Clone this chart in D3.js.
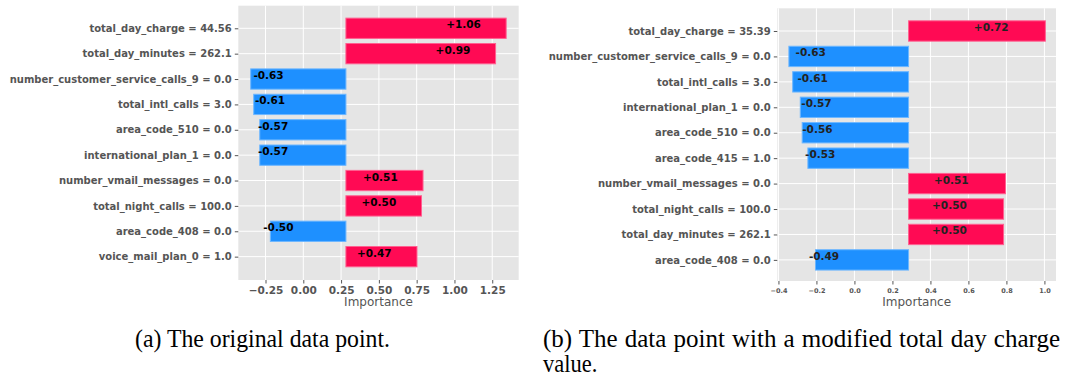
<!DOCTYPE html>
<html>
<head>
<meta charset="utf-8">
<script src="https://cdn.jsdelivr.net/npm/d3@7"></script>
<style>
  html, body { margin: 0; padding: 0; background: #fff; }
  svg { display: block; }
</style>
</head>
<body>
<svg id="chart" width="1065" height="376"></svg>
<script>
// Local explanation weights for one prediction (panel a) and the same
// prediction after changing total_day_charge (panel b).
const featuresA = [
  "total_day_charge = 44.56",
  "total_day_minutes = 262.1",
  "number_customer_service_calls_9 = 0.0",
  "total_intl_calls = 3.0",
  "area_code_510 = 0.0",
  "international_plan_1 = 0.0",
  "number_vmail_messages = 0.0",
  "total_night_calls = 100.0",
  "area_code_408 = 0.0",
  "voice_mail_plan_0 = 1.0"
];
const valuesA = [1.06, 0.99, -0.63, -0.61, -0.57, -0.57, 0.51, 0.50, -0.50, 0.47];

const featuresB = [
  "total_day_charge = 35.39",
  "number_customer_service_calls_9 = 0.0",
  "total_intl_calls = 3.0",
  "international_plan_1 = 0.0",
  "area_code_510 = 0.0",
  "area_code_415 = 1.0",
  "number_vmail_messages = 0.0",
  "total_night_calls = 100.0",
  "total_day_minutes = 262.1",
  "area_code_408 = 0.0"
];
const valuesB = [0.72, -0.63, -0.61, -0.57, -0.56, -0.53, 0.51, 0.50, 0.50, -0.49];

// Bars start from the model intercept rather than zero.
const interceptA = 0.282;
const interceptB = 0.285;

const ticksA = [-0.25, 0.00, 0.25, 0.50, 0.75, 1.00, 1.25];
const ticksB = [-0.4, -0.2, 0.0, 0.2, 0.4, 0.6, 0.8, 1.0];

const captionA = "(a) The original data point.";
const captionB1 = "(b) The data point with a modified total day charge";
const captionB2 = "value.";

const POS = "#ff0a54";
const NEG = "#1e90ff";

const svg = d3.select("#chart");

function drawPanel(cfg) {
  const g = svg.append("g");
  const x = d3.scaleLinear().domain(cfg.xDomain).range([cfg.left, cfg.right]);
  const y = d3.scaleLinear().domain(cfg.yDomain).range([cfg.top, cfg.bottom]);
  const rows = cfg.features.map((f, i) => ({ f, v: cfg.values[i], i }));

  // plot background
  g.append("rect")
    .attr("x", cfg.left).attr("y", cfg.top)
    .attr("width", cfg.right - cfg.left).attr("height", cfg.bottom - cfg.top)
    .attr("fill", "#e5e5e5");

  // grid
  g.selectAll(".vgrid").data(cfg.ticks).join("line")
    .attr("x1", d => x(d)).attr("x2", d => x(d))
    .attr("y1", cfg.top).attr("y2", cfg.bottom)
    .attr("stroke", "#fff").attr("stroke-width", 1);
  g.selectAll(".hgrid").data(rows).join("line")
    .attr("x1", cfg.left).attr("x2", cfg.right)
    .attr("y1", d => y(d.i)).attr("y2", d => y(d.i))
    .attr("stroke", "#fff").attr("stroke-width", 1);

  // bars
  const half = 0.4;
  g.selectAll(".bar").data(rows).join("rect")
    .attr("x", d => x(Math.min(cfg.base, cfg.base + d.v)))
    .attr("width", d => Math.abs(x(cfg.base + d.v) - x(cfg.base)))
    .attr("y", d => y(d.i - half))
    .attr("height", d => y(d.i + half) - y(d.i - half))
    .attr("fill", d => d.v >= 0 ? POS : NEG)
    .attr("stroke", d => d3.interpolateRgb(d.v >= 0 ? POS : NEG, "#fff")(0.35))
    .attr("stroke-width", 1);

  // value labels
  const fmt = v => (v >= 0 ? "+" : "") + v.toFixed(2);
  g.selectAll(".val").data(rows).join("text")
    .attr("x", d => d.v >= 0 ? x(d.v) : x(d.v / 2 + 0.085))
    .attr("y", d => y(d.i))
    .attr("text-anchor", "middle")
    .attr("font-family", "DejaVu Sans")
    .attr("font-weight", "bold")
    .attr("font-size", 10.5)
    .attr("fill", cfg.valueColor)
    .text(d => fmt(d.v));

  // y axis (feature names)
  const yAxis = d3.axisLeft(y).tickValues(rows.map(d => d.i))
    .tickFormat(i => cfg.features[i]).tickSize(3.5).tickPadding(3);
  const ya = g.append("g").attr("transform", `translate(${cfg.left},0)`).call(yAxis);
  ya.select(".domain").remove();
  ya.selectAll(".tick line").attr("stroke", "#555");
  ya.selectAll("text")
    .attr("font-family", "DejaVu Sans").attr("font-weight", "bold")
    .attr("font-size", 10).attr("fill", "#555");

  // x axis
  const xAxis = d3.axisBottom(x).tickValues(cfg.ticks)
    .tickFormat(cfg.tickFormat).tickSize(3.5).tickPadding(cfg.tickPad);
  const xa = g.append("g").attr("transform", `translate(0,${cfg.bottom})`).call(xAxis);
  xa.select(".domain").remove();
  xa.selectAll(".tick line").attr("stroke", "#555");
  xa.selectAll("text")
    .attr("font-family", "DejaVu Sans").attr("font-weight", "bold")
    .attr("font-size", cfg.tickFont).attr("fill", "#555");

  g.append("text")
    .attr("x", (cfg.left + cfg.right) / 2 + cfg.titleShift)
    .attr("y", 306)
    .attr("text-anchor", "middle")
    .attr("font-family", "DejaVu Sans")
    .attr("font-size", 12)
    .attr("fill", "#555")
    .text("Importance");
}

drawPanel({
  features: featuresA, values: valuesA, base: interceptA, ticks: ticksA,
  left: 238.3, right: 518.7, top: 5.7, bottom: 280,
  xDomain: [-0.43, 1.425], yDomain: [-0.89, 9.92],
  tickFormat: d3.format(".2f"), tickFont: 10.5, tickPad: 3,
  valueColor: "#000", titleShift: 0
});

drawPanel({
  features: featuresB, values: valuesB, base: interceptB, ticks: ticksB,
  left: 777.3, right: 1056, top: 8.3, bottom: 281,
  xDomain: [-0.406, 1.061], yDomain: [-0.892, 9.83],
  tickFormat: d3.format(".1f"), tickFont: 6.5, tickPad: 4,
  valueColor: "#222", titleShift: 0
});

// captions: condensed Times-like serif
const cap = { family: "'Liberation Serif', 'Times New Roman', serif", size: 25, color: "#000" };

// set a caption line into an exact width: widen word gaps when short,
// condense glyphs when long
function fitLine(sel, width) {
  const natural = sel.node().getComputedTextLength();
  const gaps = sel.text().split(" ").length - 1;
  if (natural < width && gaps > 0) {
    sel.attr("word-spacing", (width - natural) / gaps);
  } else {
    sel.attr("textLength", width).attr("lengthAdjust", "spacingAndGlyphs");
  }
}
function condense(sel, ratio) {
  const natural = sel.node().getComputedTextLength();
  sel.attr("textLength", natural * ratio).attr("lengthAdjust", "spacingAndGlyphs");
}

const capA = svg.append("text")
  .attr("x", 135).attr("y", 347)
  .attr("font-family", cap.family).attr("font-size", cap.size).attr("fill", cap.color)
  .text(captionA);
fitLine(capA, 255);

const bLeft = 543, bRight = 1060;
const b1 = svg.append("text")
  .attr("x", bLeft).attr("y", 347)
  .attr("font-family", cap.family).attr("font-size", cap.size).attr("fill", cap.color)
  .text(captionB1);
fitLine(b1, bRight - bLeft);

const b2 = svg.append("text")
  .attr("x", bLeft).attr("y", 372)
  .attr("font-family", cap.family).attr("font-size", cap.size).attr("fill", cap.color)
  .text(captionB2);
condense(b2, 0.9);
</script>
</body>
</html>
